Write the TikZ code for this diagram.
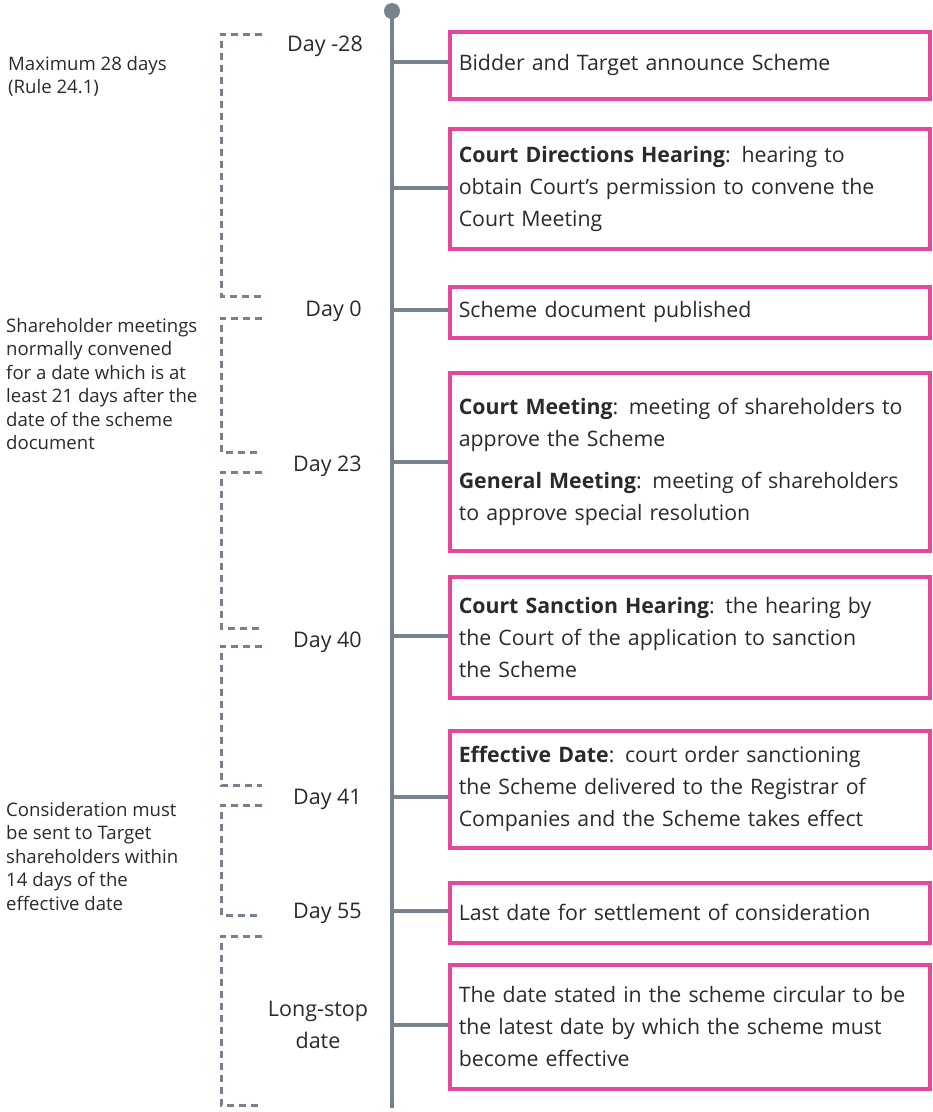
\documentclass[tikz,border=0pt]{standalone}
\usepackage{fontspec}
\setmainfont{Open Sans}
\definecolor{tlgray}{HTML}{78828E}
\definecolor{evpink}{HTML}{E5479A}
\definecolor{txtgray}{HTML}{2A2A2A}

\tikzset{
  evbox/.style={draw=evpink,line width=3.6pt,anchor=north west,
    minimum width=480pt,text width=462pt,inner xsep=9pt,inner ysep=0pt,
    align=left,text=txtgray,font=\fontsize{21.3}{32}\selectfont},
  daylbl/.style={anchor=mid east,text=txtgray,font=\fontsize{21.5}{32}\selectfont,inner sep=0pt},
  note/.style={anchor=north west,align=left,text=txtgray,inner sep=0pt,
    font=\fontsize{18.6}{23.5}\selectfont},
  bracket/.style={tlgray,line width=3pt,dash pattern=on 7pt off 5pt},
  tline/.style={tlgray,line width=3.6pt},
}

\begin{document}
\begin{tikzpicture}[x=1pt,y=-1pt]
  \useasboundingbox (0,0) rectangle (933,1112);

  % timeline
  \coordinate (top) at (392,11);
  \coordinate (bot) at (392,1108);
  \draw[tline] (top) -- (bot);
  \fill[tlgray] (top) circle (8);

  % event boxes
  \node[evbox,minimum height=67pt] (b1) at (448,30) {Bidder and Target announce Scheme};
  \node[evbox,minimum height=120pt] (b2) at (448,127) {\textbf{Court Directions Hearing}: hearing to\\obtain Court’s permission to convene the\\Court Meeting};
  \node[evbox,minimum height=51pt] (b3) at (448,285) {Scheme document published};
  \node[evbox,minimum height=178pt] (b4) at (448,371) {\textbf{Court Meeting}: meeting of shareholders to\\approve the Scheme\\[10pt]\textbf{General Meeting}: meeting of shareholders\\to approve special resolution};
  \node[evbox,minimum height=121pt] (b5) at (448,575) {\textbf{Court Sanction Hearing}: the hearing by\\the Court of the application to sanction\\the Scheme};
  \node[evbox,minimum height=117pt] (b6) at (448,729) {\textbf{Effective Date}: court order sanctioning\\the Scheme delivered to the Registrar of\\Companies and the Scheme takes effect};
  \node[evbox,minimum height=60pt] (b7) at (448,881) {Last date for settlement of consideration};
  \node[evbox,minimum height=124pt] (b8) at (448,963) {The date stated in the scheme circular to be\\the latest date by which the scheme must\\become effective};

  % connectors
  \coordinate (t1) at (392,62);
  \coordinate (t2) at (392,188);
  \coordinate (t3) at (392,310);
  \coordinate (t4) at (392,462);
  \coordinate (t5) at (392,636);
  \coordinate (t6) at (392,797);
  \coordinate (t7) at (392,911);
  \coordinate (t8) at (392,1025);
  \foreach \i in {1,...,8}
    \draw[tline] (t\i) -- (t\i -| b\i.west);

  % day labels
  \node[daylbl] (d1) at (363,49) {Day -28};
  \node[daylbl] (d2) at (362,314) {Day 0};
  \node[daylbl] (d3) at (362,469) {Day 23};
  \node[daylbl] (d4) at (362,645) {Day 40};
  \node[daylbl] (d5) at (362,802) {Day 41};
  \node[daylbl] (d6) at (362,916) {Day 55};
  \node[align=center,text=txtgray,font=\fontsize{21.5}{32}\selectfont] (d7) at (318,1025) {Long-stop\\date};

  % brackets
  \foreach \a/\b in {34/296, 318/452, 472/628, 646/785, 805/915, 936/1105}
    \draw[bracket] (262,\a) -- (221,\a) -- (221,\b) -- (262,\b);

  % notes
  \node[note] (n1) at (8,56) {Maximum 28 days\\(Rule 24.1)};
  \node[note] (n2) at (6,318) {Shareholder meetings\\normally convened\\for a date which is at\\least 21 days after the\\date of the scheme\\document};
  \node[note] (n3) at (6,802) {Consideration must\\be sent to Target\\shareholders within\\14 days of the\\effective date};
\end{tikzpicture}
\end{document}
